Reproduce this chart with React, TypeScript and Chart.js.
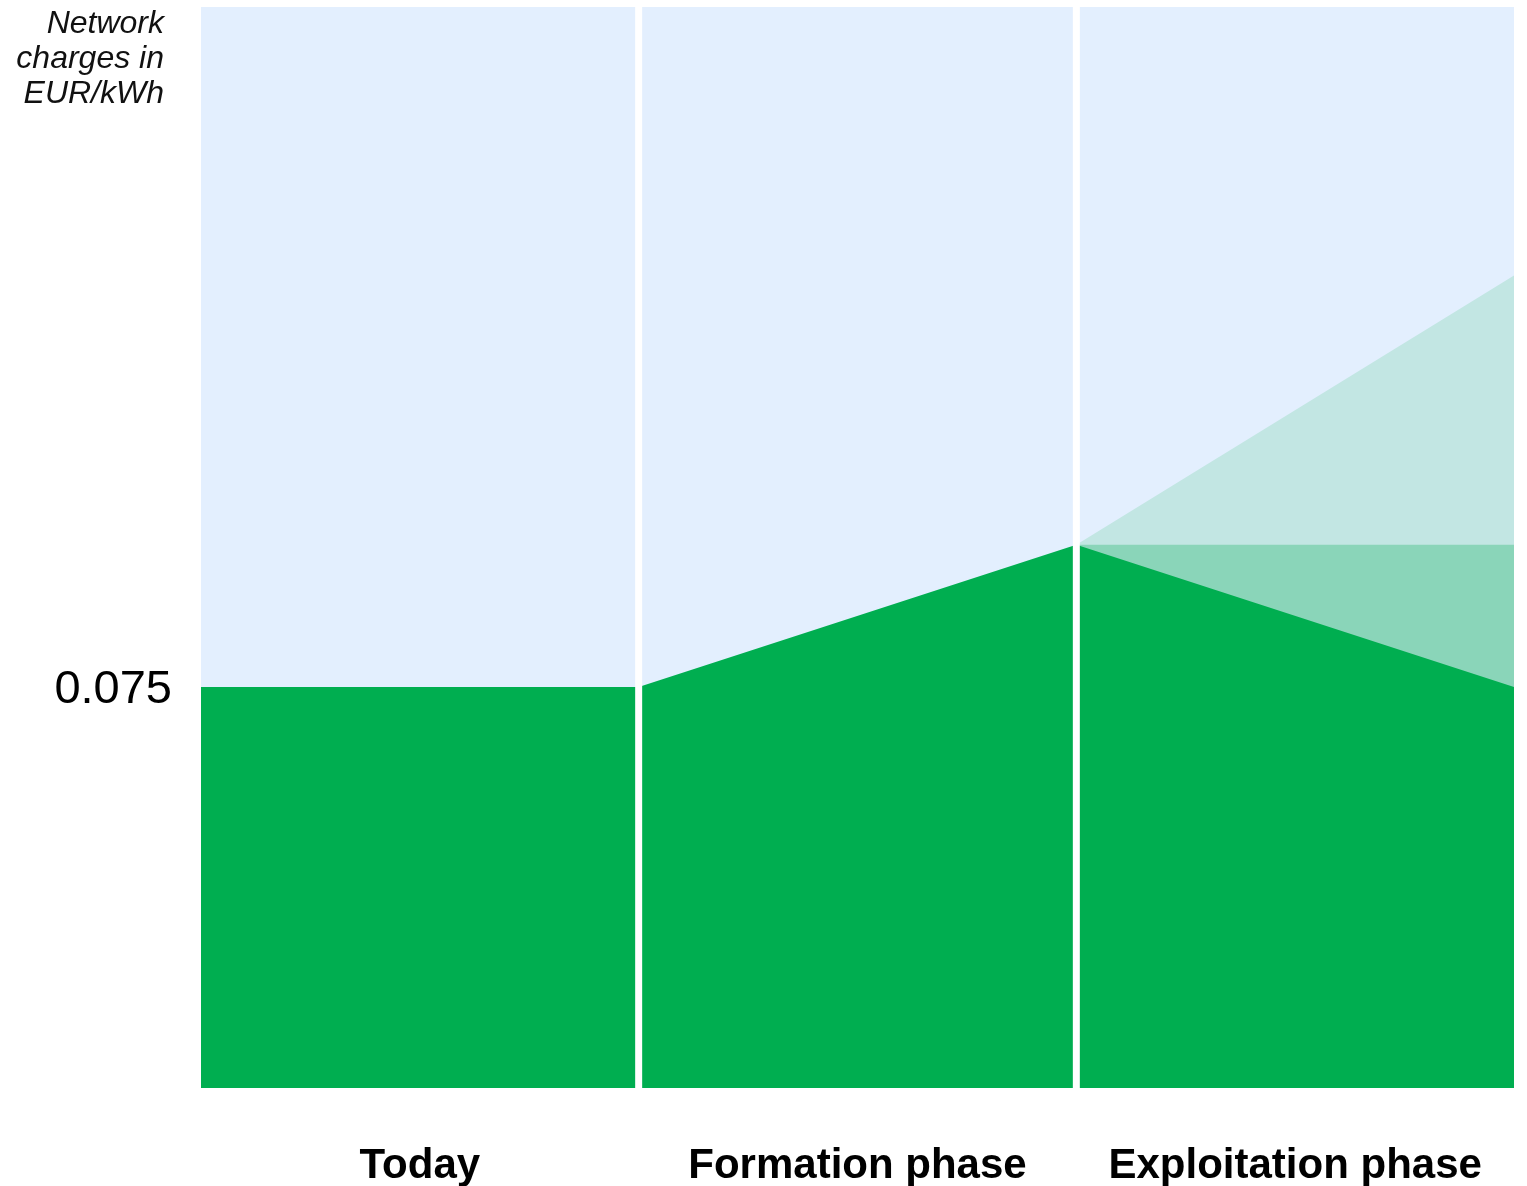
import React, { useEffect, useRef } from "react";
import { Chart, registerables } from "chart.js";

Chart.register(...registerables);

const categories = ["Today", "Formation phase", "Exploitation phase"];
const yMax = 0.2022;
const yTickValues = [0.075];
const axisTitleLines = ["Network", "charges in", "EUR/kWh"];

// network charge (solid green) at phase boundaries 0..3
const chargeX = [0, 1, 2, 3];
const chargeY = [0.075, 0.075, 0.1016, 0.075];
// flat continuation in exploitation phase (medium green)
const flatX = [2, 3];
const flatY = [0.1016, 0.1016];
// upper scenario in exploitation phase (light teal)
const upperX = [2, 3];
const upperY = [0.1016, 0.152];

const FONT = '"Liberation Sans", Arial, sans-serif';

const pts = (xs: number[], ys: number[]) => xs.map((x, i) => ({ x, y: ys[i] }));

export default function App() {
  const ref = useRef<HTMLCanvasElement | null>(null);

  useEffect(() => {
    if (!ref.current) return;
    const titlePlugin = {
      id: "axisTitle",
      afterDraw(chart: any) {
        const ctx = chart.ctx;
        ctx.save();
        ctx.font = `italic 32px ${FONT}`;
        ctx.fillStyle = "#111";
        ctx.textAlign = "right";
        ctx.textBaseline = "middle";
        axisTitleLines.forEach((t, i) => ctx.fillText(t, 164, 24 + i * 35));
        ctx.restore();
      },
    };
    const sep = (x: number) => ({
      data: [
        { x, y: 0 },
        { x, y: yMax },
      ],
      borderColor: "#ffffff",
      borderWidth: 7,
      pointRadius: 0,
      fill: false,
    });
    const chart = new Chart(ref.current, {
      type: "line",
      data: {
        datasets: [
          sep(1) as any,
          sep(2) as any,
          {
            data: pts(chargeX, chargeY),
            borderWidth: 0,
            borderColor: "rgba(0,0,0,0)",
            backgroundColor: "#00AE50",
            pointRadius: 0,
            fill: "origin",
          },
          {
            data: pts(flatX, flatY),
            borderWidth: 0,
            borderColor: "rgba(0,0,0,0)",
            backgroundColor: "#8AD5B9",
            pointRadius: 0,
            fill: "origin",
          },
          {
            data: pts(upperX, upperY),
            borderWidth: 0,
            borderColor: "rgba(0,0,0,0)",
            backgroundColor: "#C2E6E3",
            pointRadius: 0,
            fill: "origin",
          },
          {
            data: [
              { x: 0, y: yMax },
              { x: 3, y: yMax },
            ],
            borderWidth: 0,
            borderColor: "rgba(0,0,0,0)",
            backgroundColor: "#E3EFFE",
            pointRadius: 0,
            fill: "origin",
          },
        ],
      },
      options: {
        animation: false,
        responsive: true,
        maintainAspectRatio: false,
        layout: { padding: { top: 7, right: 13, left: 0, bottom: 0 } },
        plugins: { legend: { display: false }, tooltip: { enabled: false } },
        elements: { line: { tension: 0 } },
        scales: {
          x: {
            type: "linear",
            min: 0,
            max: 3,
            grid: { display: false },
            border: { display: false },
            afterFit(s: any) {
              s.height = 98;
              s.paddingLeft = 0;
              s.paddingRight = 0;
            },
            afterBuildTicks(s: any) {
              s.ticks = categories.map((_, i) => ({ value: i + 0.5 }));
            },
            ticks: {
              padding: 45,
              color: "#000",
              maxRotation: 0,
              autoSkip: false,
              font: { family: FONT, size: 42, weight: "bold" },
              callback: (v: any) => categories[Math.floor(Number(v))] ?? "",
            },
          },
          y: {
            type: "linear",
            min: 0,
            max: yMax,
            grid: { display: false },
            border: { display: false },
            afterFit(s: any) {
              s.width = 201;
              s.paddingTop = 0;
              s.paddingBottom = 0;
            },
            afterBuildTicks(s: any) {
              s.ticks = yTickValues.map((v) => ({ value: v }));
            },
            ticks: {
              padding: 21,
              labelOffset: 3,
              color: "#000",
              font: { family: FONT, size: 47 },
              callback: (v: any) => String(v),
            },
          },
        },
      },
      plugins: [titlePlugin],
    } as any);
    return () => chart.destroy();
  }, []);

  return (
    <div style={{ position: "fixed", left: 0, top: 0, width: 1527, height: 1186, background: "#fff" }}>
      <canvas ref={ref} />
    </div>
  );
}
